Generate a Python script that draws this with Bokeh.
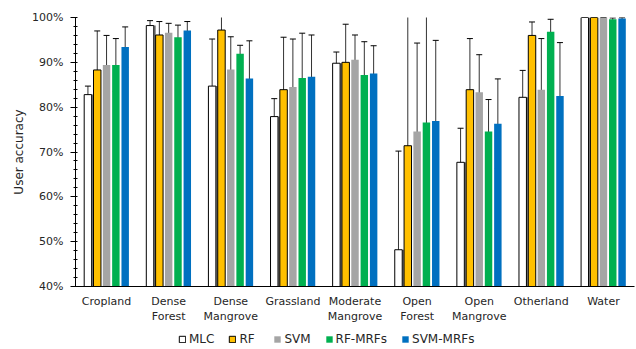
from bokeh.plotting import figure
from bokeh.layouts import column
from bokeh.models import (ColumnDataSource, FactorRange, Whisker, TeeHead, Legend,
                          LegendItem, FixedTicker, NumeralTickFormatter, Range1d)
from bokeh.transform import dodge
from bokeh.embed import file_html
from bokeh.resources import INLINE

# Land-cover classes (line breaks give the two-line axis labels)
categories = ["Cropland", "Dense\nForest", "Dense\nMangrove", "Grassland",
              "Moderate\nMangrove", "Open\nForest", "Open\nMangrove",
              "Otherland", "Water"]

methods = ["MLC", "RF", "SVM", "RF-MRFs", "SVM-MRFs"]

# User accuracy (%) per class for each classifier
mlc      = [82.8, 98.2, 84.7, 77.9, 89.8, 48.2, 67.7, 82.2, 100.0]
rf       = [88.3, 96.1, 97.2, 83.9, 90.0, 71.4, 83.9, 96.0, 100.0]
svm      = [89.4, 96.6, 88.4, 84.5, 90.6, 74.6, 83.3, 83.9, 100.0]
rf_mrfs  = [89.4, 95.6, 91.9, 86.5, 87.2, 76.6, 74.6, 96.8, 99.6]
svm_mrfs = [93.4, 97.1, 86.4, 86.8, 87.5, 76.9, 76.3, 82.5, 99.8]

# Half-width of the error bars (%)
mlc_err      = [1.9, 1.1, 10.5, 4.0, 2.5, 22.0, 7.6, 6.0, 0.0]
rf_err       = [8.7, 3.0, 3.1, 11.7, 8.5, 29.0, 11.4, 3.0, 0.0]
svm_err      = [6.6, 2.1, 7.3, 10.7, 5.5, 19.7, 8.4, 11.4, 0.0]
rf_mrfs_err  = [5.9, 2.7, 1.9, 10.0, 7.4, 26.9, 7.1, 2.8, 0.3]
svm_mrfs_err = [4.5, 2.0, 8.4, 9.3, 6.2, 18.0, 10.0, 11.9, 0.2]

values = [mlc, rf, svm, rf_mrfs, svm_mrfs]
errors = [mlc_err, rf_err, svm_err, rf_mrfs_err, svm_mrfs_err]

fills = ["white", "#FFC000", "#A5A5A5", "#00B050", "#0070C0"]
outlines = ["black", "black", None, None, None]
offsets = [-0.3, -0.15, 0.0, 0.15, 0.3]
BAR_W = 0.12

FONT = "DejaVu Sans"
TEXT_COLOR = "#262626"

p = figure(x_range=FactorRange(*categories, range_padding=0.0),
           y_range=(0.4, 1.0), width=636, height=326,
           output_backend="svg", toolbar_location=None,
           min_border_left=75, min_border_right=2, min_border_top=17,
           min_border_bottom=40)
p.outline_line_color = None
p.xgrid.grid_line_color = None
p.ygrid.grid_line_color = None

for i, (name, vals, errs) in enumerate(zip(methods, values, errors)):
    src = ColumnDataSource(dict(
        cat=categories, top=[v / 100 for v in vals],
        upper=[(v + e) / 100 for v, e in zip(vals, errs)],
        lower=[(v - e) / 100 for v, e in zip(vals, errs)],
    ))
    if name == "MLC":
        # narrow dark shading along the right edge of the hollow bars
        p.vbar(x=dodge("cat", offsets[i] + 0.075, range=p.x_range), top="top",
               bottom=0, width=0.035, source=src, fill_color="#7F7F7F",
               line_color=None)
    p.vbar(x=dodge("cat", offsets[i], range=p.x_range), top="top", bottom=0,
           width=BAR_W, source=src, fill_color=fills[i],
           line_color=outlines[i], line_width=1)
    p.add_layout(Whisker(base=dodge("cat", offsets[i], range=p.x_range),
                         upper="upper", lower="lower", source=src,
                         line_color="#333333", line_width=1,
                         upper_head=TeeHead(size=6, line_color="black", line_width=1),
                         lower_head=TeeHead(size=6, line_color="black", line_width=1)))

# y axis
p.yaxis.ticker = FixedTicker(ticks=[0.4, 0.5, 0.6, 0.7, 0.8, 0.9, 1.0],
                             minor_ticks=[0.4 + 0.02 * k for k in range(31)])
p.yaxis.formatter = NumeralTickFormatter(format="0%")
p.yaxis.axis_label = "User accuracy"
p.yaxis.axis_label_text_font = FONT
p.yaxis.axis_label_text_font_style = "normal"
p.yaxis.axis_label_text_font_size = "12px"
p.yaxis.axis_label_text_color = TEXT_COLOR
p.yaxis.major_label_text_font = FONT
p.yaxis.major_label_text_font_size = "11px"
p.yaxis.major_label_text_color = TEXT_COLOR
p.yaxis.axis_line_color = "black"
p.yaxis.major_tick_line_color = "black"
p.yaxis.major_tick_out = 5
p.yaxis.major_tick_in = 0
p.yaxis.minor_tick_line_color = "black"
p.yaxis.minor_tick_out = 2
p.yaxis.minor_tick_in = 2
p.yaxis.major_label_standoff = 7
p.yaxis.axis_label_standoff = 3

# x axis
p.xaxis.axis_line_color = "black"
p.xaxis.major_tick_line_color = None
p.xaxis.minor_tick_line_color = None
p.xaxis.major_label_text_font = FONT
p.xaxis.major_label_text_font_size = "11px"
p.xaxis.major_label_text_color = TEXT_COLOR
p.xaxis.major_label_standoff = 2
p.xaxis.major_label_orientation = "horizontal"

# legend strip under the chart; its swatch glyphs sit outside the visible range
leg = figure(width=636, height=23, x_range=Range1d(0, 1), y_range=Range1d(0, 1),
             output_backend="svg", toolbar_location=None,
             min_border=0, min_border_left=0, min_border_right=0,
             min_border_top=0, min_border_bottom=0)
leg.axis.visible = False
leg.grid.visible = False
leg.outline_line_color = None
items = []
for name, fc, lc in zip(methods, fills, outlines):
    r = leg.vbar(x=[-5], top=[-5], bottom=[-6], width=0.1,
                 fill_color=fc, line_color=lc, line_width=1)
    items.append(LegendItem(label=name, renderers=[r]))
legend = Legend(items=items, orientation="horizontal", location=(103, 3),
                label_text_font=FONT, label_text_font_size="12px",
                label_text_color=TEXT_COLOR, glyph_width=8, glyph_height=8,
                label_standoff=3, spacing=14, padding=0, margin=0,
                label_height=14, border_line_color=None,
                background_fill_alpha=0)
leg.add_layout(legend, "center")

layout = column(p, leg, spacing=0)
open("out.html", "w").write(file_html(layout, INLINE))
